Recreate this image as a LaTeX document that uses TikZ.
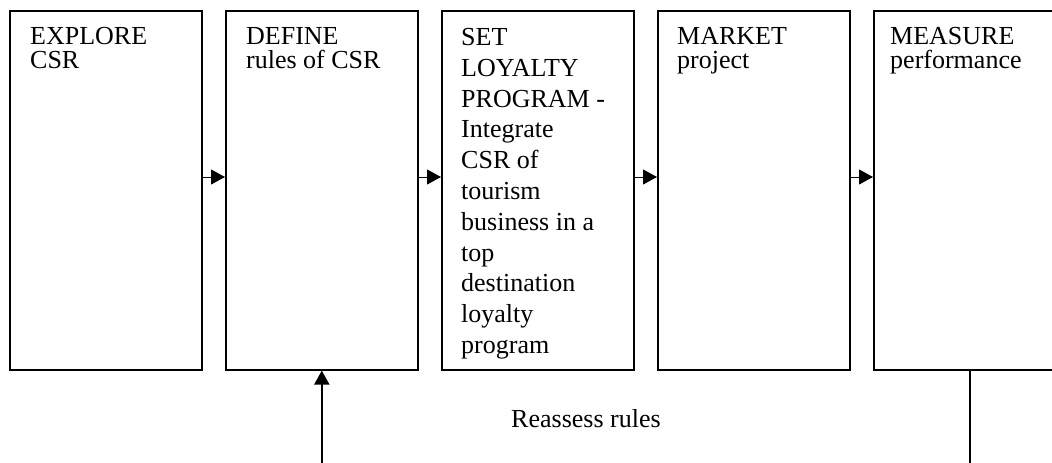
\documentclass[tikz,border=0pt]{standalone}
\usepackage{fontspec}
\setmainfont{Liberation Serif}
\usetikzlibrary{arrows.meta}
\begin{document}
\begin{tikzpicture}[x=1pt, y=-1pt,
  stage/.style={draw, line width=1.6pt, minimum width=192pt, minimum height=359pt,
    inner sep=0pt, anchor=north west},
  caption/.style={anchor=north west, inner sep=0pt, align=left,
    font=\fontsize{26}{24}\selectfont},
  tallcaption/.style={caption, font=\fontsize{26}{30.8}\selectfont},
  flow/.style={line width=1pt, -{Triangle[length=14pt, width=15pt]}},
  feedback/.style={line width=2pt, -{Triangle[length=14pt, width=15pt]}},
  plainline/.style={line width=1.6pt}]
  \clip (0,0) rectangle (1052,463);
  \fill[white] (0,0) rectangle (1052,463);

  % the five stages
  \node[stage] (b1) at (9,10) {};
  \node[stage] (b2) at (225,10) {};
  \node[stage] (b3) at (441,10) {};
  \node[stage] (b4) at (657,10) {};
  \node[stage] (b5) at (873,10) {};

  % stage texts
  \node[caption] (t1) at (30,27) {EXPLORE\\CSR};
  \node[caption] (t2) at (246,27) {DEFINE\\rules of CSR};
  \node[tallcaption] (t3) at (461,28) {SET\\LOYALTY\\PROGRAM -\\Integrate\\CSR of\\tourism\\business in a\\top\\destination\\loyalty\\program};
  \node[caption] (t4) at (677,27) {MARKET\\project};
  \node[caption] (t5) at (890,27) {MEASURE\\performance};

  % forward flow between stages
  \draw[flow] (b1.east |- 0,177) -- (b2.west |- 0,177);
  \draw[flow] (b2.east |- 0,177) -- (b3.west |- 0,177);
  \draw[flow] (b3.east |- 0,177) -- (b4.west |- 0,177);
  \draw[flow] (b4.east |- 0,177) -- (b5.west |- 0,177);

  % feedback loop
  \coordinate (fbin) at (b2.south |- 0,470);
  \coordinate (fbout) at (b5.south |- 0,470);
  \draw[feedback] (fbin) -- (b2.south);
  \draw[plainline] (b5.south) -- (fbout);
  \node[anchor=base west, inner sep=0pt, font=\fontsize{26}{30}\selectfont] (fblabel) at (511,427) {Reassess rules};
\end{tikzpicture}
\end{document}
